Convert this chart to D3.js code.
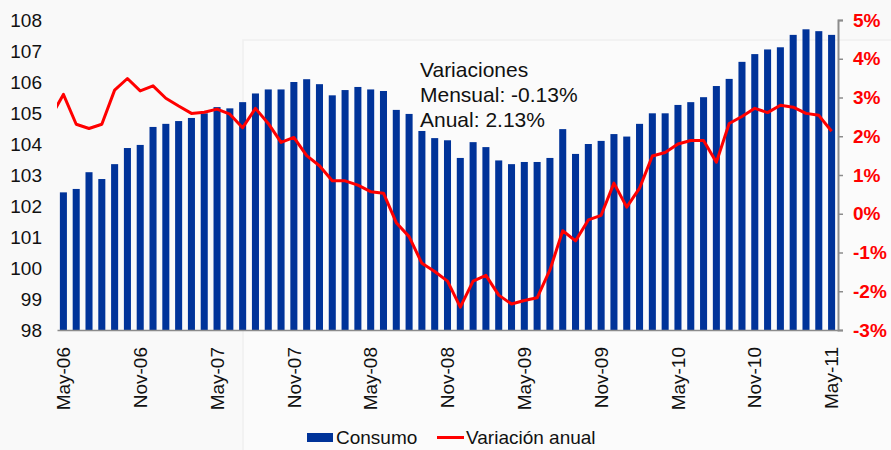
<!DOCTYPE html>
<html><head><meta charset="utf-8">
<script src="https://cdn.jsdelivr.net/npm/d3@7"></script>
<style>
html,body{margin:0;padding:0;background:#f9f9f9;}
svg{display:block;font-family:"Liberation Sans",Arial,sans-serif;}
</style></head>
<body><svg id="c" width="891" height="450"></svg>
<script>
const months = ["May-06","Jun-06","Jul-06","Aug-06","Sep-06","Oct-06","Nov-06","Dec-06","Jan-07","Feb-07","Mar-07","Apr-07",
"May-07","Jun-07","Jul-07","Aug-07","Sep-07","Oct-07","Nov-07","Dec-07","Jan-08","Feb-08","Mar-08","Apr-08",
"May-08","Jun-08","Jul-08","Aug-08","Sep-08","Oct-08","Nov-08","Dec-08","Jan-09","Feb-09","Mar-09","Apr-09",
"May-09","Jun-09","Jul-09","Aug-09","Sep-09","Oct-09","Nov-09","Dec-09","Jan-10","Feb-10","Mar-10","Apr-10",
"May-10","Jun-10","Jul-10","Aug-10","Sep-10","Oct-10","Nov-10","Dec-10","Jan-11","Feb-11","Mar-11","Apr-11","May-11"];
const consumo = [102.44,102.55,103.09,102.87,103.35,103.87,103.97,104.55,104.65,104.74,104.84,104.99,
105.19,105.15,105.35,105.63,105.76,105.76,106.00,106.09,105.93,105.57,105.74,105.84,
105.76,105.71,105.10,104.97,104.42,104.19,104.12,103.55,104.06,103.90,103.47,103.35,
103.42,103.42,103.55,104.48,103.68,104.00,104.10,104.32,104.24,104.65,104.99,104.99,
105.26,105.35,105.51,105.87,106.10,106.65,106.90,107.05,107.12,107.52,107.70,107.64,107.52];
const variacionAnual = [3.08,2.31,2.20,2.31,3.19,3.49,3.17,3.30,2.98,2.78,2.59,2.62,
2.70,2.57,2.22,2.72,2.33,1.84,1.97,1.50,1.24,0.85,0.85,0.74,
0.57,0.53,-0.23,-0.59,-1.28,-1.49,-1.74,-2.41,-1.74,-1.59,-2.10,-2.33,
-2.24,-2.17,-1.45,-0.44,-0.70,-0.16,-0.04,0.79,0.17,0.66,1.49,1.58,
1.80,1.89,1.89,1.33,2.33,2.51,2.72,2.61,2.80,2.75,2.59,2.54,2.13];
// previous month (Apr-06), partly visible at the left edge of the plot
const variacionAnualPrev = 2.49;
const leftTicks = [98,99,100,101,102,103,104,105,106,107,108];
const rightTicks = [-3,-2,-1,0,1,2,3,4,5];
const xTickLabels = ["May-06","Nov-06","May-07","Nov-07","May-08","Nov-08","May-09","Nov-09","May-10","Nov-10","May-11"];
const annotation = ["Variaciones","Mensual: -0.13%","Anual: 2.13%"];
const legendLabels = ["Consumo","Variación anual"];

const svg = d3.select("#c");
// faint background panel
svg.append("rect").attr("x",243).attr("y",40).attr("width",660).attr("height",420)
  .attr("fill","#fbfbfb").attr("stroke","#efefef").attr("stroke-width",1.5);

const x = d3.scaleBand().domain(months).range([57,838]).paddingInner(0.45).paddingOuter(0.225);
const yL = d3.scaleLinear().domain([98,108]).range([330,20]);
const yR = d3.scaleLinear().domain([-3,5]).range([330,20]);

svg.append("defs").append("clipPath").attr("id","plot").append("rect")
  .attr("x",x.range()[0]).attr("y",0).attr("width",x.range()[1]-x.range()[0]).attr("height",340);

// bars
svg.append("g").selectAll("rect").data(consumo).join("rect")
  .attr("x",(d,i)=>x(months[i]))
  .attr("width",x.bandwidth())
  .attr("y",d=>yL(d))
  .attr("height",d=>yL(98)-yL(d))
  .attr("fill","#003399");

// left axis
const gL = svg.append("g").attr("transform","translate(42,0)")
  .call(d3.axisLeft(yL).tickValues(leftTicks).tickSize(0).tickPadding(0).tickFormat(d3.format("d")));
gL.select(".domain").remove();
gL.selectAll("text").attr("font-size",19).attr("fill","#111").attr("font-family","Liberation Sans, Arial, sans-serif");

// right axis
const gR = svg.append("g").attr("transform","translate(838,0)")
  .call(d3.axisRight(yR).tickValues(rightTicks).tickSize(5).tickPadding(10).tickFormat(d=>d+"%"));
gR.select(".domain").attr("stroke","#8c8c8c").attr("stroke-width",2);
gR.selectAll(".tick line").attr("stroke","#8c8c8c").attr("stroke-width",1.5);
gR.selectAll("text").attr("font-size",19).attr("font-weight","bold").attr("fill","#ff0000").attr("font-family","Liberation Sans, Arial, sans-serif");

// bottom axis
const gB = svg.append("g").attr("transform","translate(0,330)")
  .call(d3.axisBottom(x).tickValues(xTickLabels).tickSize(0).tickPadding(0));
gB.select(".domain").attr("stroke","#8c8c8c").attr("stroke-width",1.5);
gB.selectAll("text").attr("font-size",19).attr("fill","#111").attr("font-family","Liberation Sans, Arial, sans-serif")
  .attr("transform","rotate(-90)").attr("text-anchor","end").attr("x",-17).attr("y",0).attr("dy","0.35em");

// line (includes previous month so the line runs to the plot edge, clipped)
const cx = i => x(months[0]) + x.bandwidth()/2 + (i-1)*x.step();
const lineData = [variacionAnualPrev].concat(variacionAnual);
const line = d3.line().x((d,i)=>cx(i)).y(d=>yR(d));
svg.append("path").datum(lineData).attr("d",line).attr("clip-path","url(#plot)")
  .attr("fill","none").attr("stroke","#ff0000").attr("stroke-width",3).attr("stroke-linejoin","round");

// annotation
svg.append("g").selectAll("text").data(annotation).join("text")
  .attr("x",420).attr("y",(d,i)=>77+i*25).attr("font-size",21).attr("fill","#111").text(d=>d);

// legend
const lg = svg.append("g");
lg.append("rect").attr("x",307).attr("y",433).attr("width",26).attr("height",9).attr("fill","#003399");
lg.append("text").attr("x",336).attr("y",444).attr("font-size",19).attr("fill","#111").text(legendLabels[0]);
lg.append("line").attr("x1",437).attr("x2",464).attr("y1",437.5).attr("y2",437.5).attr("stroke","#ff0000").attr("stroke-width",3);
lg.append("text").attr("x",466).attr("y",444).attr("font-size",19).attr("fill","#111").text(legendLabels[1]);
</script></body></html>
